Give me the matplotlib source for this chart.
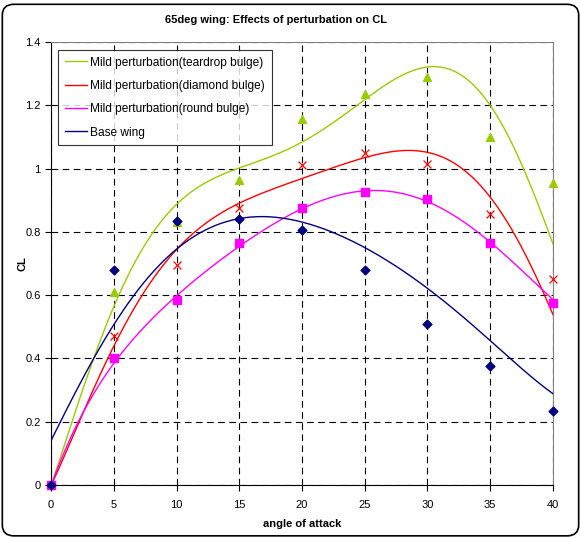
import numpy as np
import matplotlib
matplotlib.use("Agg")
import matplotlib.pyplot as plt
from matplotlib.patches import FancyBboxPatch

plt.rcParams['font.family'] = ['Liberation Sans', 'DejaVu Sans']

# measured data points
alpha = [0, 5, 10, 15, 20, 25, 30, 35, 40]
cl_teardrop = [0.0, 0.61, 0.83, 0.965, 1.155, 1.235, 1.29, 1.10, 0.955]
cl_diamond = [0.0, 0.47, 0.695, 0.875, 1.01, 1.05, 1.015, 0.855, 0.65]
cl_round = [0.0, 0.40, 0.585, 0.765, 0.875, 0.925, 0.905, 0.765, 0.575]
cl_base = [0.0, 0.68, 0.835, 0.84, 0.805, 0.68, 0.51, 0.375, 0.235]

# trendline values
alpha_tr = [0, 2.5, 5, 7.5, 10, 12.5, 15, 17.5, 20, 22.5, 25, 27.5, 30, 32.5, 35, 37.5, 40]
tr_teardrop = [0, 0.29, 0.568, 0.77, 0.88, 0.954, 1.0, 1.043, 1.087, 1.143, 1.222, 1.28,
               1.315, 1.305, 1.206, 1.006, 0.764]
tr_diamond = [0, 0.216, 0.442, 0.616, 0.75, 0.827, 0.89, 0.927, 0.969, 1.006, 1.040, 1.056,
              1.05, 0.996, 0.917, 0.753, 0.537]
tr_round = [0, 0.216, 0.395, 0.50, 0.595, 0.68, 0.757, 0.816, 0.874, 0.911, 0.930, 0.927,
            0.895, 0.838, 0.769, 0.68, 0.585]
tr_base = [0.144, 0.321, 0.521, 0.642, 0.747, 0.804, 0.84, 0.849, 0.832, 0.80, 0.753, 0.685,
           0.622, 0.543, 0.456, 0.369, 0.288]

labels = ["Mild perturbation(teardrop bulge)", "Mild perturbation(diamond bulge)",
          "Mild perturbation(round bulge)", "Base wing"]
colors = ["#99CC00", "#FF0000", "#FF00FF", "#000080"]
markers = ["^", "x", "s", "D"]

fig = plt.figure(figsize=(5.81, 5.38), dpi=100)
ax = fig.add_axes([0.0878, 0.0985, 0.864, 0.8235])

series = [cl_teardrop, cl_diamond, cl_round, cl_base]
trends = [tr_teardrop, tr_diamond, tr_round, tr_base]
xs = np.linspace(0, 40, 300)
xa = np.array(alpha, float)
xt = np.array(alpha_tr, float)
for y, t, c, m, lab in zip(series, trends, colors, markers, labels):
    ya = np.array(y, float)
    p = np.polyfit(xt, np.array(t, float), 6)
    ax.plot(xs, np.polyval(p, xs), color=c, lw=1.0, label=lab, zorder=3)
    if m == "x":
        ax.scatter(xa, ya, marker=m, s=32, color=c, linewidths=0.9, zorder=4, clip_on=False)
    elif m == "D":
        ax.scatter(xa, ya, marker=m, s=20, color=c, zorder=4, clip_on=False)
    else:
        ax.scatter(xa, ya, marker=m, s=32, color=c, zorder=4, clip_on=False)

ax.set_xlim(0, 40)
ax.set_ylim(0, 1.4)
ax.set_xticks(alpha)
ax.set_yticks([0, 0.2, 0.4, 0.6, 0.8, 1, 1.2, 1.4])
ax.set_yticklabels(["0", "0.2", "0.4", "0.6", "0.8", "1", "1.2", "1.4"])
ax.grid(True, color="black", linestyle=(0, (6, 4)), lw=0.8)
ax.tick_params(direction="out", length=4, labelsize=8, width=0.8)
ax.tick_params(axis="x", pad=7)
for s in ["top", "right"]:
    ax.spines[s].set_color("#808080")
for s in ["left", "bottom"]:
    ax.spines[s].set_color("black")
ax.set_xlabel("angle of attack", fontsize=8, fontweight="bold", labelpad=6)
ax.set_ylabel("CL", fontsize=8, fontweight="bold", labelpad=-2)
fig.text(0.475, 0.962, "65deg wing: Effects of perturbation on CL", fontsize=8,
         fontweight="bold", ha="center", va="center")

leg = ax.legend(loc="upper left", bbox_to_anchor=(0.014, 0.982), fontsize=8.6, frameon=True,
                fancybox=False, edgecolor="black", handlelength=1.9, labelspacing=0.95,
                borderpad=0.55, handletextpad=0.25, borderaxespad=0)
leg.get_frame().set_linewidth(0.8)

border = FancyBboxPatch((0.004, 0.004), 0.992, 0.988, boxstyle="round,pad=0,rounding_size=0.02",
                        transform=fig.transFigure, fill=False, edgecolor="black", lw=1.2)
fig.patches.append(border)

fig.savefig("out.png", dpi=100)
